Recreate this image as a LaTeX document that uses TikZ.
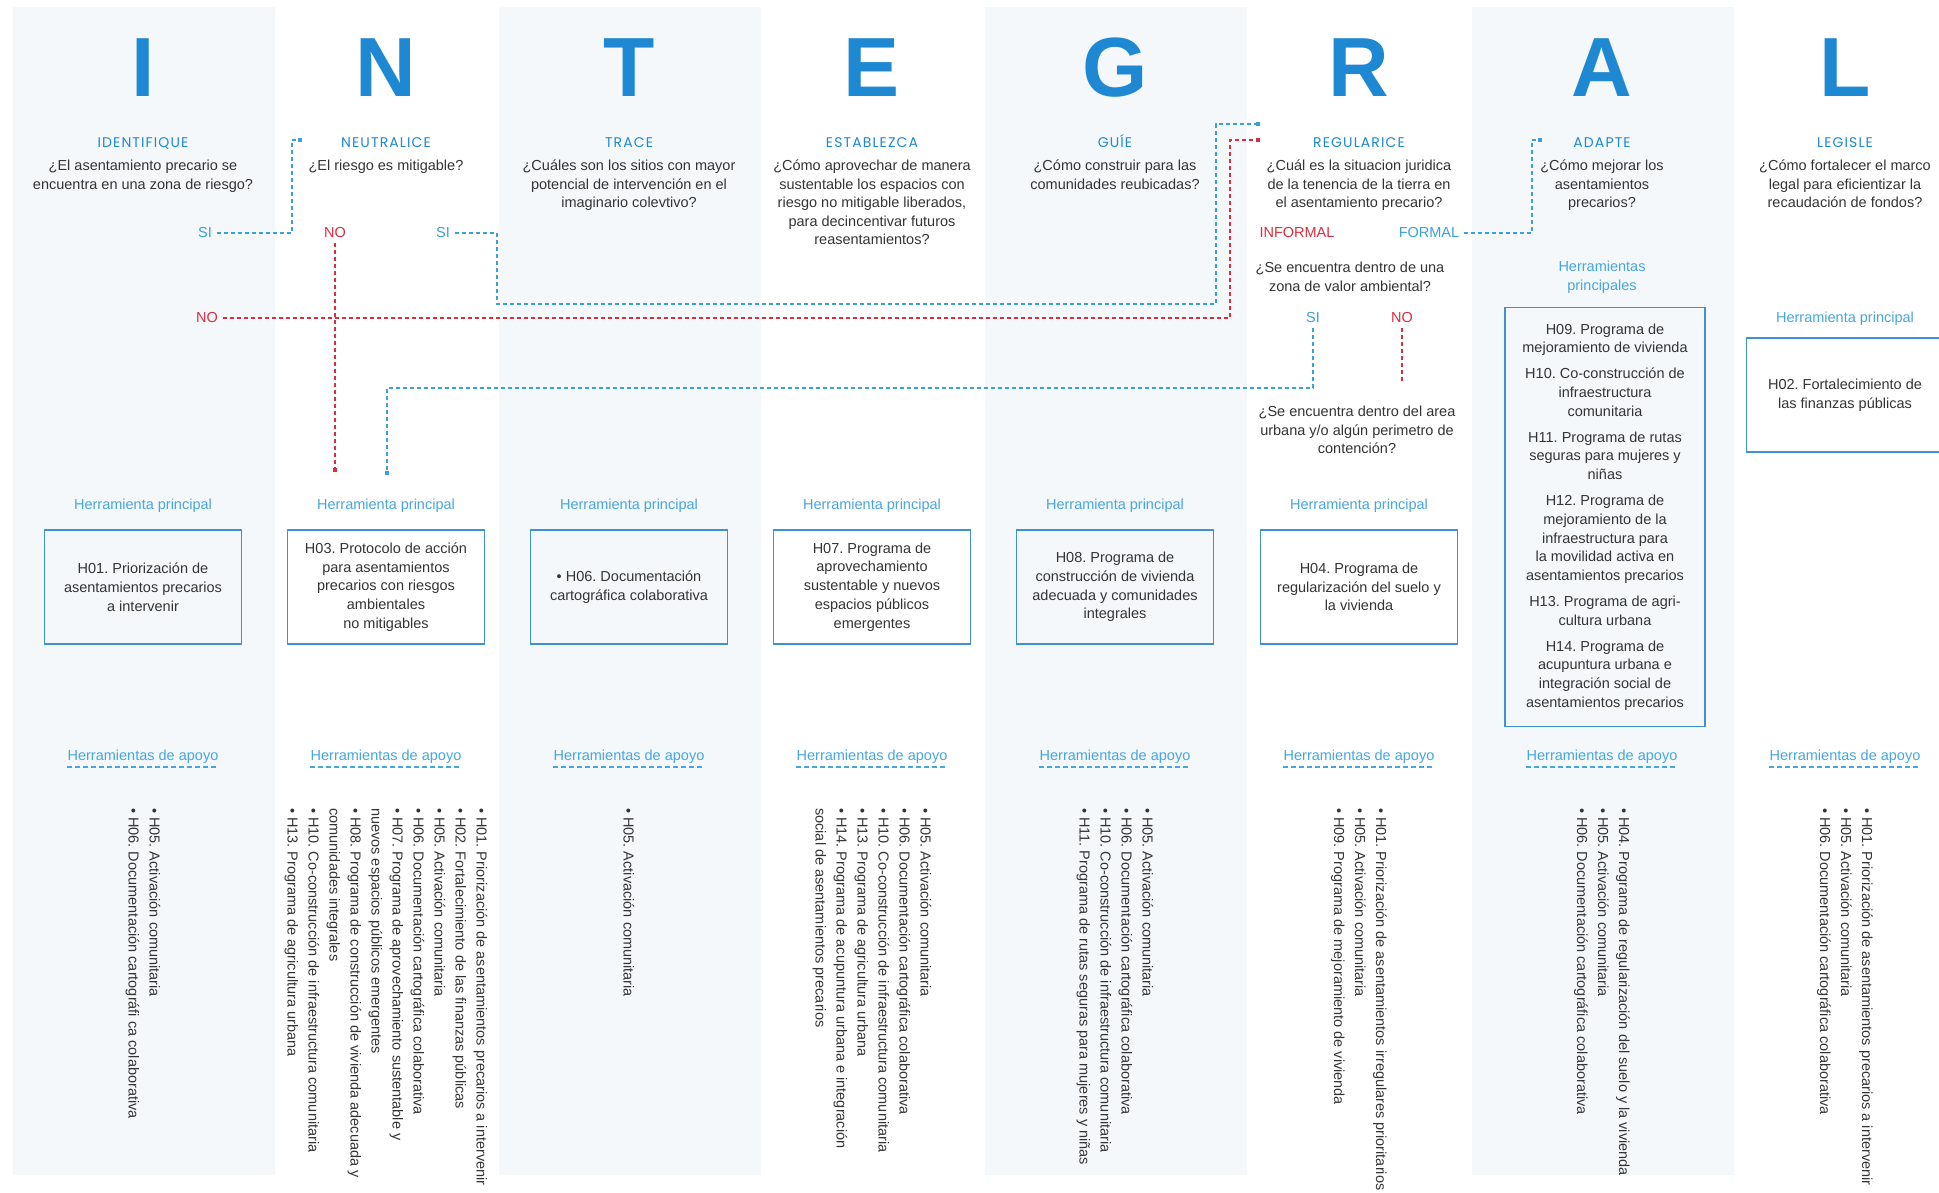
\documentclass[tikz,border=0pt]{standalone}
\usepackage{fontspec}
\setmainfont{Liberation Sans}
\newfontfamily\verbfont[LetterSpace=8]{Poppins}
\usetikzlibrary{positioning}
\frenchspacing
\definecolor{letterblue}{RGB}{30,136,210}
\definecolor{lightblue}{RGB}{72,166,222}
\definecolor{boxblue}{RGB}{62,146,210}
\definecolor{siblue}{RGB}{58,160,218}
\definecolor{nored}{RGB}{220,45,62}
\definecolor{panel}{RGB}{244,248,251}
\definecolor{txt}{RGB}{52,52,52}
\begin{document}
\begin{tikzpicture}[x=1pt,y=-1pt,
  letter/.style={font=\fontsize{84}{84}\selectfont\bfseries, text=letterblue, anchor=base, inner sep=0},
  verb/.style={font=\verbfont\fontsize{14}{14}\selectfont, text=letterblue, anchor=base, inner sep=0},
  question/.style={font=\fontsize{14.5}{18.4}\selectfont, text=txt, align=center, anchor=north, inner sep=0},
  answer/.style={font=\fontsize{14.5}{14.5}\selectfont, inner sep=5pt},
  siLabel/.style={answer, text=siblue},
  noLabel/.style={answer, text=nored},
  toolhead/.style={font=\fontsize{14.5}{18.4}\selectfont, text=lightblue, anchor=base, inner sep=0, align=center},
  toolbox/.style={draw=boxblue, line width=1.6pt, minimum width=197pt, minimum height=114pt, font=\fontsize{14.5}{18.8}\selectfont, text=txt, align=center, inner sep=0},
  apoyo/.style={font=\fontsize{14.5}{14.5}\selectfont, text=lightblue, anchor=base, inner sep=0},
  apoyoline/.style={draw=lightblue, line width=1.4pt, dash pattern=on 5pt off 3pt},
  toollist/.style={font=\fontsize{14.5}{21}\selectfont, text=txt, align=left, rotate=-90, anchor=west, inner sep=0},
  sidash/.style={draw=siblue, line width=1.5pt, dash pattern=on 4pt off 3pt},
  nodash/.style={draw=nored, line width=1.5pt, dash pattern=on 4pt off 3pt},
  sidot/.style={fill=siblue, minimum size=4.5pt, inner sep=0},
  nodot/.style={fill=nored, minimum size=4.5pt, inner sep=0}]
\clip (0,0) rectangle (1939,1193);
\fill[white] (0,0) rectangle (1939,1193);
\foreach \cx in {143,629,1115,1602} \fill[panel] (\cx-130,7) rectangle (\cx+132,1175);

% letters and verbs
\node[letter] (lI) at (143,97) {I};
\node[letter] (lN) at (386,97) {N};
\node[letter] (lT) at (629,97) {T};
\node[letter] (lE) at (872,97) {E};
\node[letter] (lG) at (1115,97) {G};
\node[letter] (lR) at (1359,97) {R};
\node[letter] (lA) at (1602,97) {A};
\node[letter] (lL) at (1845,97) {L};

\node[verb] (vI) at (143,148) {IDENTIFIQUE};
\node[verb] (vN) at (386,148) {NEUTRALICE};
\node[verb] (vT) at (629,148) {TRACE};
\node[verb] (vE) at (872,148) {ESTABLEZCA};
\node[verb] (vG) at (1115,148) {GUÍE};
\node[verb] (vR) at (1359,148) {REGULARICE};
\node[verb] (vA) at (1602,148) {ADAPTE};
\node[verb] (vL) at (1845,148) {LEGISLE};

\node[question] (qI) at (143,160) {¿El asentamiento precario se\\encuentra en una zona de riesgo?};
\node[question] (qN) at (386,160) {¿El riesgo es mitigable?};
\node[question] (qT) at (629,160) {¿Cuáles son los sitios con mayor\\potencial de intervención en el\\imaginario colevtivo?};
\node[question] (qE) at (872,160) {¿Cómo aprovechar de manera\\sustentable los espacios con\\riesgo no mitigable liberados,\\para decincentivar futuros\\reasentamientos?};
\node[question] (qG) at (1115,160) {¿Cómo construir para las\\comunidades reubicadas?};
\node[question] (qR) at (1359,160) {¿Cuál es la situacion juridica\\de la tenencia de la tierra en\\el asentamiento precario?};
\node[question] (qA) at (1602,160) {¿Cómo mejorar los\\asentamientos\\precarios?};
\node[question] (qL) at (1845,160) {¿Cómo fortalecer el marco\\legal para eficientizar la\\recaudación de fondos?};

% answers
\node[siLabel] (siI) at (205,233) {SI};
\node[noLabel] (noI) at (207,318) {NO};
\node[noLabel] (noN) at (335,233) {NO};
\node[siLabel] (siN) at (443,233) {SI};
\node[noLabel] (informal) at (1297,233) {INFORMAL};
\node[siLabel] (formal) at (1429,233) {FORMAL};
\node[question] (qZona) at (1350,262) {¿Se encuentra dentro de una\\zona de valor ambiental?};
\node[siLabel] (siR) at (1313,318) {SI};
\node[noLabel] (noR) at (1402,318) {NO};
\node[question] (qUrb) at (1357,406) {¿Se encuentra dentro del area\\urbana y/o algún perimetro de\\contención?};

\node[sidot] (nInSi) at (300,140) {};
\node[nodot] (rInNo) at (1258,140) {};
\node[sidot] (rInSi) at (1258,124) {};
\node[sidot] (aIn) at (1540,140) {};
\node[nodot] (nToolNo) at (335,470) {};
\node[sidot] (nToolSi) at (387,473) {};
\coordinate (bendN) at (497,304);
\coordinate (urbIn) at (1402,382);

\path[sidash] (siI.east) -| ([xshift=-8pt]nInSi.center) -- (nInSi);
\path[nodash] (noI.east) -| ([xshift=-28pt]rInNo.center) -- (rInNo);
\path[nodash] (noN.south) -- (nToolNo);
\path[sidash] (siN.east) -| (bendN) -| ([xshift=-42pt]rInSi.center) -- (rInSi);
\path[sidash] (formal.east) -| ([xshift=-8pt]aIn.center) -- (aIn);
\path[sidash] (siR.south) |- ([yshift=85pt]nToolSi.center) -- (nToolSi);
\path[nodash] (noR.south) -- (urbIn);

% herramientas principales
\foreach \cx/\n in {143/I,386/N,629/T,872/E,1115/G,1359/R}
  \node[toolhead] (hp\n) at (\cx,509) {Herramienta principal};
\node[toolhead, anchor=north] (hpA) at (1602,261) {Herramientas\\principales};
\node[toolhead] (hpL) at (1845,322) {Herramienta principal};

\node[toolbox] (bI) at (143,587) {H01. Priorización de\\asentamientos precarios\\a intervenir};
\node[toolbox] (bN) at (386,587) {H03. Protocolo de acción\\para asentamientos\\precarios con riesgos\\ambientales\\no mitigables};
\node[toolbox] (bT) at (629,587) {• H06. Documentación\\cartográfica colaborativa};
\node[toolbox] (bE) at (872,587) {H07. Programa de\\aprovechamiento\\sustentable y nuevos\\espacios públicos\\emergentes};
\node[toolbox] (bG) at (1115,587) {H08. Programa de\\construcción de vivienda\\adecuada y comunidades\\integrales};
\node[toolbox] (bR) at (1359,587) {H04. Programa de\\regularización del suelo y\\la vivienda};
\node[toolbox, minimum width=200pt, minimum height=419pt] (bA) at (1605,517) {H09. Programa de\\mejoramiento de vivienda\\[7pt]H10. Co-construcción de\\infraestructura\\comunitaria\\[7pt]H11. Programa de rutas\\seguras para mujeres y\\niñas\\[7pt]H12. Programa de\\mejoramiento de la\\infraestructura para\\la movilidad activa en\\asentamientos precarios\\[7pt]H13. Programa de agri-\\cultura urbana\\[7pt]H14. Programa de\\acupuntura urbana e\\integración social de\\asentamientos precarios};
\node[toolbox] (bL) at (1845,395) {H02. Fortalecimiento de\\las finanzas públicas};

% herramientas de apoyo
\foreach \cx/\n in {143/I,386/N,629/T,872/E,1115/G,1359/R,1602/A,1845/L}{
  \node[apoyo] (ap\n) at (\cx,760) {Herramientas de apoyo};
  \path[apoyoline] ([yshift=-7pt]ap\n.base west) -- ([yshift=-7pt]ap\n.base east);
}

\node[toollist] (lsI) at (143,808) {• H05. Activación comunitaria\\• H06. Documentación cartográfi ca colaborativa};
\node[toollist] (lsN) at (386,808) {• H01. Priorización de asentamientos precarios a intervenir\\• H02. Fortalecimiento de las finanzas públicas\\• H05. Activación comunitaria\\• H06. Documentación cartográfica colaborativa\\• H07. Programa de aprovechamiento sustentable y\\nuevos espacios públicos emergentes\\• H08. Programa de construcción de vivienda adecuada y\\comunidades integrales\\• H10. Co-construcción de infraestructura comunitaria\\• H13. Programa de agricultura urbana};
\node[toollist] (lsT) at (629,808) {• H05. Activación comunitaria};
\node[toollist] (lsE) at (872,808) {• H05. Activación comunitaria\\• H06. Documentación cartográfica colaborativa\\• H10. Co-construcción de infraestructura comunitaria\\• H13. Programa de agricultura urbana\\• H14. Programa de acupuntura urbana e integración\\social de asentamientos precarios};
\node[toollist] (lsG) at (1115,808) {• H05. Activación comunitaria\\• H06. Documentación cartográfica colaborativa\\• H10. Co-construcción de infraestructura comunitaria\\• H11. Programa de rutas seguras para mujeres y niñas};
\node[toollist] (lsR) at (1359,808) {• H01. Priorización de asentamientos irregulares prioritarios\\• H05. Activación comunitaria\\• H09. Programa de mejoramiento de vivienda};
\node[toollist] (lsA) at (1602,808) {• H04. Programa de regularización del suelo y la vivienda\\• H05. Activación comunitaria\\• H06. Documentación cartográfica colaborativa};
\node[toollist] (lsL) at (1845,808) {• H01. Priorización de asentamientos precarios a intervenir\\• H05. Activación comunitaria\\• H06. Documentación cartográfica colaborativa};
\end{tikzpicture}
\end{document}
